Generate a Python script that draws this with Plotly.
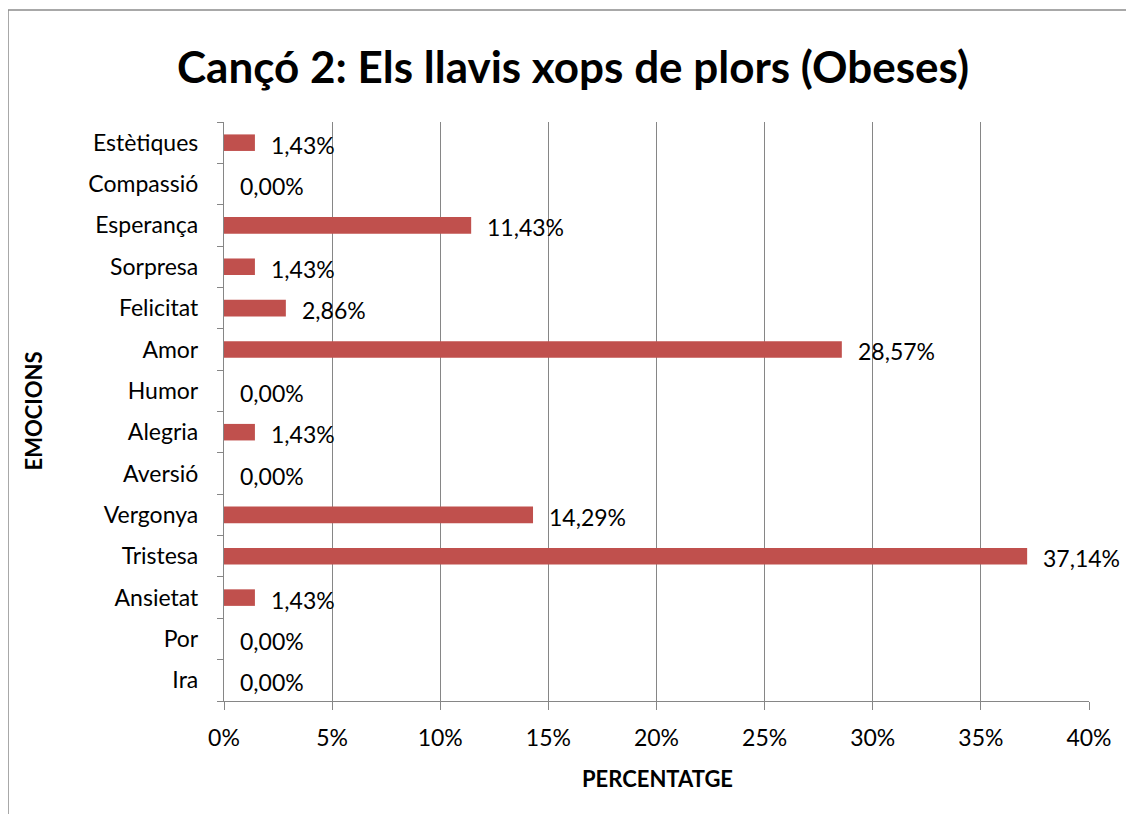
import plotly.graph_objects as go

categories = ["Ira", "Por", "Ansietat", "Tristesa", "Vergonya", "Aversió", "Alegria",
              "Humor", "Amor", "Felicitat", "Sorpresa", "Esperança", "Compassió", "Estètiques"]
values = [0.00, 0.00, 1.43, 37.14, 14.29, 0.00, 1.43, 0.00, 28.57, 2.86, 1.43, 11.43, 0.00, 1.43]
tick_vals = [0, 5, 10, 15, 20, 25, 30, 35, 40]
tick_text = ["0%", "5%", "10%", "15%", "20%", "25%", "30%", "35%", "40%"]
title = "Cançó 2: Els llavis xops de plors (Obeses)"
x_title = "PERCENTATGE"
y_title = "EMOCIONS"

FONT = "Lato, Carlito, Calibri, sans-serif"
GRID = "#868686"

# page body has an 8px margin; layout is offset to compensate
OFF = 8
W, H = 1134 - OFF, 814 - OFF
L, T, PW, PH = 224 - OFF, 122 - OFF, 865, 579

fig = go.Figure()
fig.add_trace(go.Bar(
    x=values, y=categories, orientation="h",
    marker=dict(color="#C0504D", line=dict(width=0)),
    width=0.4, hoverinfo="skip",
))

annotations = []
for c, v in zip(categories, values):
    annotations.append(dict(
        x=v, y=c, xref="x", yref="y", text=f"{v:.2f}%".replace(".", ","),
        showarrow=False, xanchor="left", yanchor="middle", xshift=14, yshift=-2,
        font=dict(family=FONT, size=23, color="#000000"),
    ))

annotations.append(dict(
    x=(33 - 224) / PW, y=0.5, xref="paper", yref="paper", text=f"<b>{y_title}</b>",
    showarrow=False, textangle=-90, xanchor="center", yanchor="middle",
    font=dict(family=FONT, size=22, color="#000000"),
))
annotations.append(dict(
    x=(657 - 224) / PW, y=(701 - 778) / PH, xref="paper", yref="paper", text=f"<b>{x_title}</b>",
    showarrow=False, xanchor="center", yanchor="middle",
    font=dict(family=FONT, size=22, color="#000000"),
))

fig.update_layout(
    width=W, height=H,
    margin=dict(l=L, r=W - L - PW, t=T, b=H - T - PH),
    paper_bgcolor="white", plot_bgcolor="white",
    showlegend=False,
    title=dict(text=f"<b>{title}</b>", x=(573 - OFF) / W, xanchor="center",
               y=1 - (68 - OFF) / H, yanchor="middle",
               font=dict(family=FONT, size=44, color="#000000")),
    annotations=annotations,
    shapes=[dict(type="rect", xref="paper", yref="paper",
                 x0=(8 - 224) / PW, x1=1.3, y0=-0.4, y1=1 + (122 - 10) / PH,
                 line=dict(color="#8C8C8C", width=1.5), fillcolor="rgba(0,0,0,0)", layer="below")],
    xaxis=dict(range=[0, 40], tickvals=tick_vals, ticktext=tick_text,
               showgrid=True, gridcolor=GRID, gridwidth=1.3,
               showline=True, linecolor=GRID, linewidth=1.3,
               ticks="outside", ticklen=8, tickcolor=GRID, tickwidth=1.3,
               zeroline=False, ticklabelstandoff=8,
               tickfont=dict(family=FONT, size=23, color="#000000")),
    yaxis=dict(categoryorder="array", categoryarray=categories,
               showgrid=False, showline=True, linecolor=GRID, linewidth=1.3,
               ticks="outside", ticklen=6, tickcolor=GRID, tickwidth=1.3,
               tickson="boundaries", ticklabelstandoff=20,
               tickfont=dict(family=FONT, size=23, color="#000000")),
)

fig.write_html("out.html", config={"displayModeBar": False})
